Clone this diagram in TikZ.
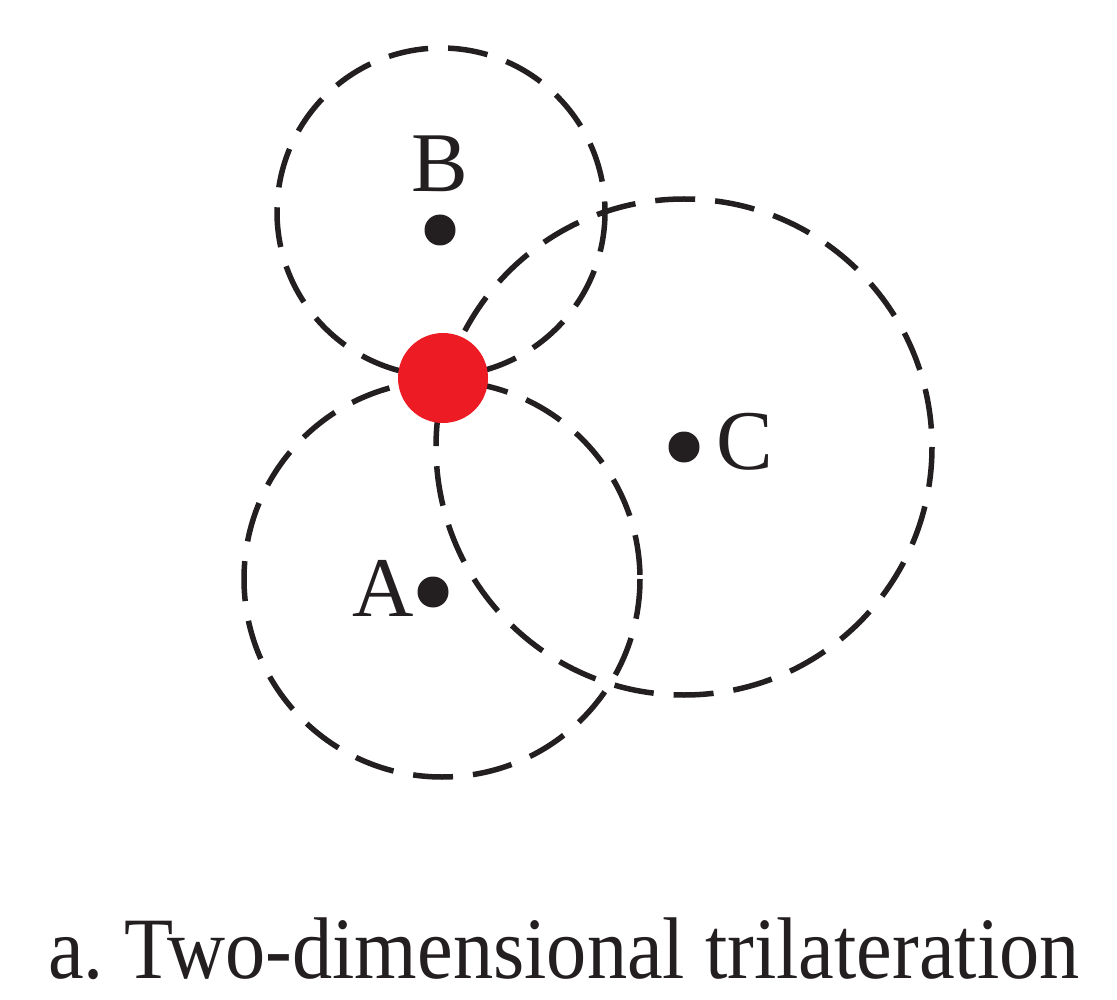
\documentclass[tikz,border=0pt]{standalone}
\usepackage{fontspec}
\setmainfont{Liberation Serif}
\usepackage{tikz}
\usetikzlibrary{positioning}
\definecolor{myred}{RGB}{237,28,36}
\definecolor{myblack}{RGB}{35,31,32}

\begin{document}
\begin{tikzpicture}[
x=1pt, y=-1pt,
ring/.style={draw=myblack, line width=5.5pt, dash pattern=on 40pt off 20pt},
anchorpt/.style={circle, fill=myblack, inner sep=0pt, minimum size=31pt},
target/.style={circle, fill=myred, inner sep=0pt, minimum size=90pt},
lbl/.style={inner sep=0pt, font=\fontsize{85}{100}\selectfont, text=myblack}
]
\useasboundingbox (0,0) rectangle (1117,1000);

% Range circles
\draw[ring] (441,212) circle[radius=164];
\draw[ring] (684,447) circle[radius=248];
\draw[ring] (442,579) circle[radius=198];

% Anchors and estimated position
\node[target] (pos) at (443,378) {};
\node[anchorpt] (b) at (440,230) {};
\node[anchorpt] (c) at (684,447) {};
\node[anchorpt] (a) at (433,592) {};

\node[lbl] (lb) at (440,164) {B};
\node[lbl] (lc) at (745,442) {C};
\node[lbl] (la) at (383,588) {A};

% Caption
\node[lbl, anchor=base west] (cap) at (48,978) {\scalebox{0.945}[1.03]{a.\ Two-dimensional trilateration}};

\end{tikzpicture}
\end{document}
